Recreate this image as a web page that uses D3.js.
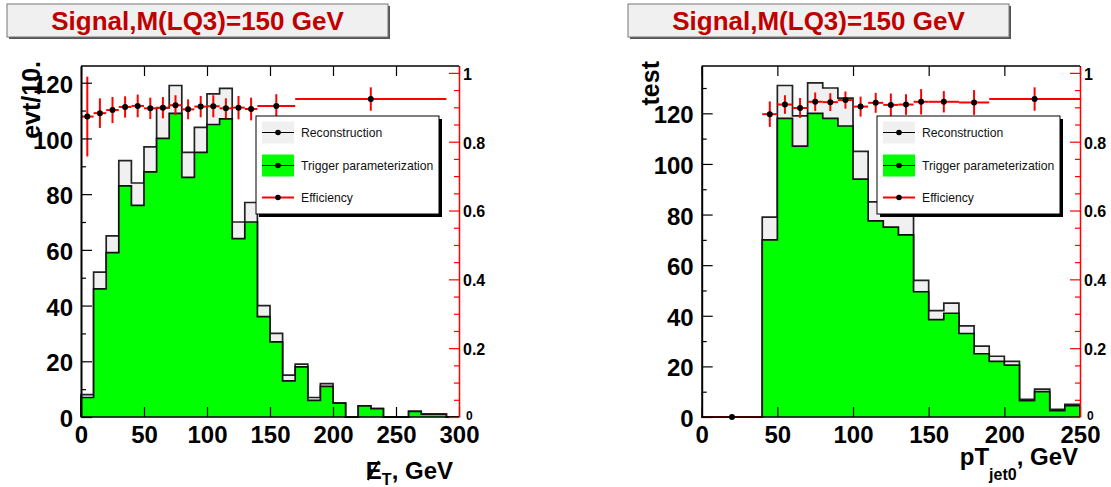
<!DOCTYPE html>
<html>
<head>
<meta charset="utf-8">
<script src="https://cdn.jsdelivr.net/npm/d3@7/dist/d3.min.js"></script>
<style>
  body { margin: 0; background: #fff; }
  svg { display: block; }
  text { font-family: "Liberation Sans", Arial, Helvetica, sans-serif; }
</style>
</head>
<body>
<svg id="chart" width="1111" height="487"></svg>
<script>
// ---------- Missing transverse energy panel ----------
const metEdges = [0,10,20,30,40,50,60,70,80,90,100,110,120,130,140,150,160,170,180,190,200,210,220,230,240,250,260,270,280,290,300];
const metReco  = [8,52,65,92,84,97,111,119,95,104,116,118,70,77,40,30,15,19,7,12,5,0,4,3,0,0,2,1,1,0];
const metTrig  = [7,46,59,83,76,88,100,109,86,95,105,107,64,70,36,27,13,18,6,11,5,0,4,3,0,0,2,1,1,0];
const metEffLo  = [0,10,20,30,40,50,60,70,80,90,100,110,120,130,140,170];
const metEffHi  = [10,20,30,40,50,60,70,80,90,100,110,120,130,140,170,290];
const metEff    = [0.873,0.883,0.892,0.901,0.904,0.897,0.899,0.906,0.894,0.902,0.903,0.897,0.899,0.895,0.904,0.924];
const metEffErr = [0.116,0.043,0.038,0.031,0.033,0.031,0.031,0.029,0.029,0.031,0.032,0.029,0.034,0.033,0.034,0.034];
const metXTicks = [0,50,100,150,200,250,300];

// ---------- Leading jet pT panel ----------
const ptEdges = [0,10,20,30,40,50,60,70,80,90,100,110,120,130,140,150,160,170,180,190,200,210,220,230,240,250];
const ptReco  = [0,0,0,0,79,131,119,132,130,126,105,85,83,80,54,42,45,36,28,24,22,7,11,3,5];
const ptTrig  = [0,0,0,0,70,118,107,120,118,115,94,77.5,75,72,49.5,38.5,41,33,25,22,20.5,6.5,10,2.5,4.5];
const ptEffLo  = [0,40,50,60,70,80,90,100,110,120,130,140,150,170,190];
const ptEffHi  = [40,50,60,70,80,90,100,110,120,130,140,150,170,190,250];
const ptEff    = [0,0.880,0.908,0.898,0.916,0.915,0.921,0.902,0.913,0.907,0.908,0.916,0.916,0.914,0.924];
const ptEffErr = [0,0.037,0.027,0.029,0.027,0.026,0.025,0.029,0.029,0.033,0.030,0.037,0.031,0.036,0.034];
const ptXTicks = [0,50,100,150,200,250];

// ---------- shared axis ticks / labels ----------
const countTicks = [0,20,40,60,80,100,120];
const countMinor = [10,30,50,70,90,110,130];
const effTicks = [0,0.2,0.4,0.6,0.8,1];
const effTickLabels = ["0","0.2","0.4","0.6","0.8","1"];
const effMinor = [0.05,0.1,0.15,0.25,0.3,0.35,0.45,0.5,0.55,0.65,0.7,0.75,0.85,0.9,0.95];

const titleText = "Signal,M(LQ3)=150 GeV";
const legendLabels = ["Reconstruction", "Trigger parameterization", "Efficiency"];

const COL_RECO = "#f0f0f0";
const COL_TRIG = "#00ff00";
const COL_EFF  = "#ff0000";
const COL_TITLE = "#c00000";

const svg = d3.select("#chart");

function drawPanel(p) {
  const g = svg.append("g");
  const x = d3.scaleLinear().domain(p.xDomain).range([p.x0, p.x1]);
  const y = d3.scaleLinear().domain([0, p.yMax]).range([p.y1, p.y0]);
  const ye = d3.scaleLinear().domain([0, 1.02]).range([p.y1, p.y0]);

  // title box with shadow
  g.append("rect").attr("x", p.tx + 2).attr("y", p.ty + 2).attr("width", p.tw).attr("height", p.th).attr("fill", "#555");
  g.append("rect").attr("x", p.tx).attr("y", p.ty).attr("width", p.tw).attr("height", p.th)
    .attr("fill", "#f0f0f0").attr("stroke", "#777").attr("stroke-width", 1);
  g.append("text").attr("x", p.tx + p.tw / 2).attr("y", p.ty + 26).attr("text-anchor", "middle")
    .attr("font-size", 26).attr("font-weight", "bold").attr("fill", COL_TITLE).text(titleText);

  // step histogram outline through the bin edges
  function histPath(edges, vals) {
    const pts = [[x(edges[0]), y(0)]];
    vals.forEach((v, i) => {
      pts.push([x(edges[i]), y(v)]);
      pts.push([x(edges[i + 1]), y(v)]);
    });
    pts.push([x(edges[edges.length - 1]), y(0)]);
    return d3.line()(pts);
  }
  g.append("path").attr("d", histPath(p.edges, p.reco) + "Z")
    .attr("fill", COL_RECO).attr("stroke", "none");
  g.append("path").attr("d", histPath(p.edges, p.reco))
    .attr("fill", "none").attr("stroke", "#222").attr("stroke-width", 1.7);
  g.append("path").attr("d", histPath(p.edges, p.trig) + "Z")
    .attr("fill", COL_TRIG).attr("stroke", "none");
  g.append("path").attr("d", histPath(p.edges, p.trig))
    .attr("fill", "none").attr("stroke", "#111").attr("stroke-width", 1.7);

  // efficiency graph with errors
  const eff = g.append("g");
  p.effLo.forEach((lo, i) => {
    const hi = p.effHi[i], v = p.eff[i], e = p.effErr[i];
    const cx = x((lo + hi) / 2);
    eff.append("line").attr("x1", x(lo)).attr("x2", x(hi)).attr("y1", ye(v)).attr("y2", ye(v))
      .attr("stroke", COL_EFF).attr("stroke-width", 2);
    if (e > 0) {
      eff.append("line").attr("x1", cx).attr("x2", cx).attr("y1", ye(v - e)).attr("y2", ye(v + e))
        .attr("stroke", COL_EFF).attr("stroke-width", 2);
    }
    eff.append("circle").attr("cx", cx).attr("cy", ye(v)).attr("r", 3).attr("fill", "#000");
  });

  // frame
  g.append("line").attr("x1", p.x0).attr("x2", p.x1).attr("y1", p.y0).attr("y2", p.y0).attr("stroke", "#000").attr("stroke-width", 1.5);
  g.append("line").attr("x1", p.x0).attr("x2", p.x1).attr("y1", p.y1).attr("y2", p.y1).attr("stroke", "#000").attr("stroke-width", 1.5);

  const tickFont = sel => sel.selectAll("text").attr("font-size", 24).attr("font-weight", "bold").attr("fill", "#000")
      .attr("font-family", "\"Liberation Sans\", Arial, sans-serif");

  // bottom axis
  const xb = g.append("g").attr("transform", `translate(0,${p.y1})`)
    .call(d3.axisBottom(x).tickValues(p.xTicks).tickSizeInner(-10).tickSizeOuter(0).tickPadding(10).tickFormat(d3.format("d")));
  xb.select(".domain").remove();
  xb.selectAll("line").attr("stroke", "#000").attr("stroke-width", 1.2);
  tickFont(xb);
  xb.selectAll("text").attr("dy", "0.68em");
  // top axis ticks
  const xt = g.append("g").attr("transform", `translate(0,${p.y0})`)
    .call(d3.axisTop(x).tickValues(p.xTicks).tickSizeInner(-10).tickSizeOuter(0).tickFormat(""));
  xt.select(".domain").remove();
  xt.selectAll("line").attr("stroke", "#000").attr("stroke-width", 1.2);

  // left count axis
  const yl = g.append("g").attr("transform", `translate(${p.x0},0)`)
    .call(d3.axisLeft(y).tickValues(countTicks).tickSizeInner(-11).tickSizeOuter(0).tickPadding(8).tickFormat(d3.format("d")));
  yl.select(".domain").attr("stroke", "#000").attr("stroke-width", 2);
  yl.selectAll("line").attr("stroke", "#000").attr("stroke-width", 1.2);
  tickFont(yl);
  yl.selectAll("text").attr("dy", "0.4em");
  const ylm = g.append("g").attr("transform", `translate(${p.x0},0)`)
    .call(d3.axisLeft(y).tickValues(countMinor.filter(v => v < p.yMax)).tickSizeInner(-5).tickSizeOuter(0).tickFormat(""));
  ylm.select(".domain").remove();
  ylm.selectAll("line").attr("stroke", "#000").attr("stroke-width", 1.2);

  // right efficiency axis
  const yr = g.append("g").attr("transform", `translate(${p.x1},0)`)
    .call(d3.axisRight(ye).tickValues(effTicks).tickSizeInner(-10).tickSizeOuter(0).tickPadding(4)
      .tickFormat((d, i) => effTickLabels[i]));
  yr.select(".domain").attr("stroke", COL_EFF).attr("stroke-width", 1.5);
  yr.selectAll("line").attr("stroke", COL_EFF).attr("stroke-width", 1.2);
  yr.selectAll("text").attr("font-size", 16).attr("font-weight", "bold").attr("fill", "#000").attr("dy", "0.4em");
  yr.selectAll("text").filter(d => d === 0).attr("font-size", 12).attr("dx", 3).attr("dy", "0.2em");
  const yrm = g.append("g").attr("transform", `translate(${p.x1},0)`)
    .call(d3.axisRight(ye).tickValues(effMinor).tickSizeInner(-5).tickSizeOuter(0).tickFormat(""));
  yrm.select(".domain").remove();
  yrm.selectAll("line").attr("stroke", COL_EFF).attr("stroke-width", 1.2);

  // axis titles
  g.append("text").attr("transform", `translate(${p.ytX},${p.y0 - 5}) rotate(-90)`)
    .attr("text-anchor", "end").attr("font-size", 25).attr("font-weight", "bold").text(p.yTitle);
  p.xTitle(g);

  // legend
  const lx = p.lx, ly = p.ly, lw = 183, lh = 98;
  g.append("rect").attr("x", lx + 3).attr("y", ly + 3).attr("width", lw).attr("height", lh).attr("fill", "#000");
  g.append("rect").attr("x", lx).attr("y", ly).attr("width", lw).attr("height", lh)
    .attr("fill", "#fff").attr("stroke", "#000").attr("stroke-width", 1);
  const rows = [16.5, 49.5, 81.5];
  const fills = [COL_RECO, COL_TRIG, null];
  legendLabels.forEach((lab, i) => {
    const cy = ly + rows[i];
    if (fills[i]) {
      g.append("rect").attr("x", lx + 6).attr("y", cy - 11).attr("width", 32).attr("height", 22).attr("fill", fills[i]);
    }
    g.append("line").attr("x1", lx + 6).attr("x2", lx + 38).attr("y1", cy).attr("y2", cy)
      .attr("stroke", fills[i] ? "#000" : COL_EFF).attr("stroke-width", fills[i] ? 1 : 2);
    g.append("circle").attr("cx", lx + 22).attr("cy", cy).attr("r", 2.8).attr("fill", "#000");
    g.append("text").attr("x", lx + 45).attr("y", cy + 4.5).attr("font-size", 12.2).attr("fill", "#111").text(lab);
  });
}

drawPanel({
  x0: 81, x1: 459, y0: 66, y1: 417, xDomain: [0, 300], yMax: 126,
  edges: metEdges, reco: metReco, trig: metTrig,
  effLo: metEffLo, effHi: metEffHi, eff: metEff, effErr: metEffErr,
  xTicks: metXTicks, yTitle: "evt/10.", ytX: 40,
  tx: 7, ty: 4, tw: 381, th: 33, lx: 256, ly: 116,
  xTitle: g => {
    const t = g.append("text").attr("x", 453).attr("y", 479).attr("text-anchor", "end")
      .attr("font-size", 24).attr("font-weight", "bold");
    t.append("tspan").text("E");
    t.append("tspan").attr("font-size", 16).attr("dy", 6).text("T");
    t.append("tspan").attr("dy", -6).text(", GeV");
    const ext = t.node().getExtentOfChar(0);
    g.append("line").attr("x1", ext.x + 2).attr("x2", ext.x + ext.width - 3)
      .attr("y1", ext.y + ext.height - 4).attr("y2", ext.y + 4)
      .attr("stroke", "#000").attr("stroke-width", 2);
  }
});

drawPanel({
  x0: 701.7, x1: 1080, y0: 66, y1: 417, xDomain: [0, 250], yMax: 138.7,
  edges: ptEdges, reco: ptReco, trig: ptTrig,
  effLo: ptEffLo, effHi: ptEffHi, eff: ptEff, effErr: ptEffErr,
  xTicks: ptXTicks, yTitle: "test", ytX: 659,
  tx: 628, ty: 4, tw: 381, th: 33, lx: 877, ly: 116,
  xTitle: g => {
    const t = g.append("text").attr("x", 1078).attr("y", 465).attr("text-anchor", "end")
      .attr("font-size", 24).attr("font-weight", "bold");
    t.append("tspan").text("pT");
    t.append("tspan").attr("font-size", 16).attr("dy", 15).text("jet0");
    t.append("tspan").attr("dy", -15).text(", GeV");
  }
});
</script>
</body>
</html>
